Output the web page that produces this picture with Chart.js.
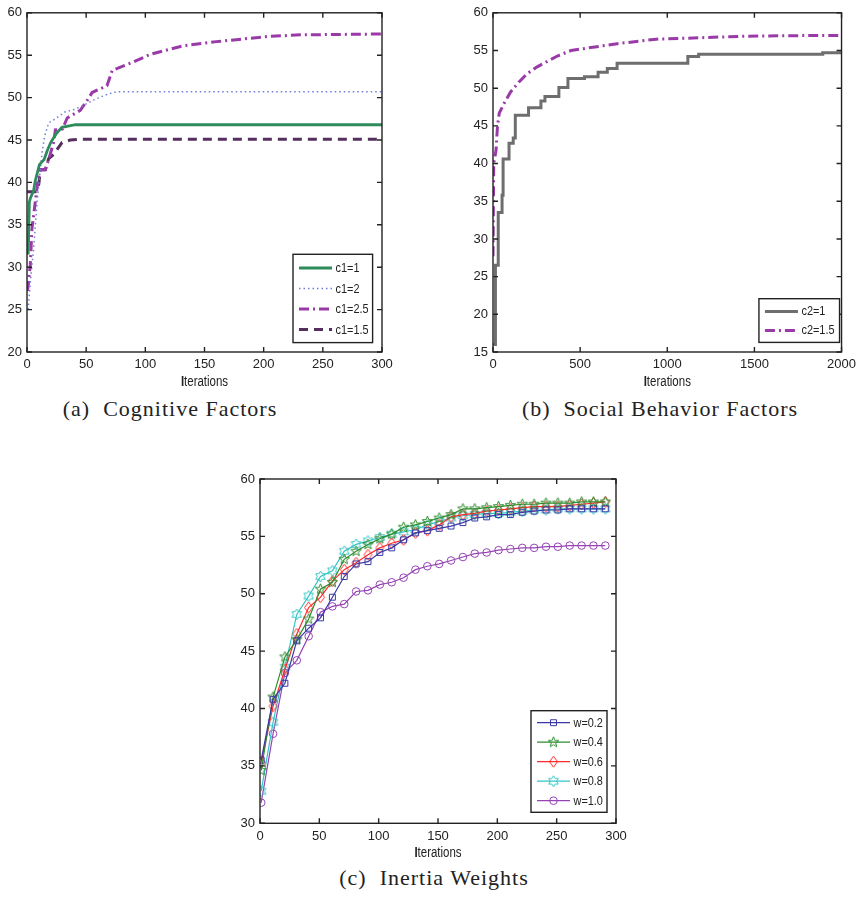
<!DOCTYPE html>
<html>
<head>
<meta charset="utf-8">
<script src="https://cdn.jsdelivr.net/npm/chart.js"></script>
<style>
  body { margin: 0; background: #fff; width: 861px; height: 897px; position: relative; overflow: hidden; }
  canvas { position: absolute; }
  .cap { position: absolute; font-family: "Liberation Serif", serif; font-size: 22px; letter-spacing: 1px; color: #222;
         white-space: pre; transform: translate(-50%, -50%); }
</style>
</head>
<body>
<canvas id="chartA" width="430" height="395" style="left:0;top:0"></canvas>
<canvas id="chartB" width="421" height="395" style="left:440px;top:0"></canvas>
<canvas id="chartC" width="420" height="400" style="left:220px;top:460px"></canvas>
<div class="cap" style="left:170px;top:409px">(a)  Cognitive Factors</div>
<div class="cap" style="left:660px;top:409px">(b)  Social Behavior Factors</div>
<div class="cap" style="left:434px;top:878px">(c)  Inertia Weights</div>

<script>
// (a) cognitive factors
const aC1_1x = [1, 2, 3, 5.5, 7, 10.5, 14.5, 17, 20, 25, 29.5, 41, 300];
const aC1_1y = [31.5, 37.7, 38.2, 39.0, 40.2, 42.1, 42.7, 43.7, 44.7, 45.8, 46.5, 46.8, 46.8];
const aC1_2x = [1, 3, 5.6, 8.5, 10.5, 12.7, 15, 18.3, 25, 32, 40, 48, 56, 68, 76, 300];
const aC1_2y = [25.0, 28.5, 32.2, 37.7, 40.5, 43.5, 45.5, 47.0, 47.6, 48.3, 48.6, 49.1, 49.7, 50.4, 50.7, 50.7];
const aC1_25x = [0.5, 2.8, 4.2, 7, 9, 11.3, 15.5, 18.3, 22.5, 24, 30, 34, 45, 52, 55, 67.6, 72, 90, 104, 132, 160, 203, 231, 300];
const aC1_25y = [27.2, 30.3, 34.6, 37.7, 40.0, 41.5, 41.5, 42.7, 44.7, 46.2, 46.3, 47.6, 48.5, 49.9, 50.6, 51.4, 53.2, 54.2, 55.1, 56.1, 56.6, 57.2, 57.4, 57.5];
const aC1_15x = [0, 7, 10, 11.3, 15.5, 18.3, 22.5, 29.6, 36.6, 45, 300];
const aC1_15y = [38.9, 38.9, 39.8, 41.5, 41.5, 42.8, 43.3, 44.7, 45.0, 45.1, 45.1];

// (b) social behavior factors (c2=1 is a step curve: x where the value jumps, new value)
const bC2_1x = [0, 14, 30, 52, 58, 92, 116, 128, 204, 275, 298, 378, 430, 525, 603, 656, 712, 1118, 1180, 1892, 2000];
const bC2_1y = [16.0, 26.5, 33.5, 35.8, 40.6, 42.7, 43.4, 46.4, 47.4, 48.3, 48.9, 50.1, 51.3, 51.5, 52.1, 52.6, 53.3, 54.2, 54.5, 54.7, 54.7];
const bC2_15x = [0, 4, 17, 26, 36, 64, 101, 148, 195, 251, 307, 373, 448, 506, 712, 937, 1199, 1442, 1893, 2000];
const bC2_15y = [27.7, 40.0, 41.7, 45.0, 46.7, 48.0, 49.5, 50.8, 51.9, 52.8, 53.5, 54.3, 55.0, 55.2, 55.9, 56.5, 56.7, 56.9, 57.0, 57.0];

// (c) inertia weights
const cIter = [1, 11, 21, 31, 41, 51, 61, 71, 81, 91, 101, 111, 121, 131, 141, 151, 161, 171, 181, 191,
               201, 211, 221, 231, 241, 251, 261, 271, 281, 291];
const cW02 = [35.5, 40.8, 42.2, 45.9, 47.0, 47.9, 49.7, 51.5, 52.6, 52.8, 53.6, 54.0, 54.7, 55.3, 55.5,
              55.7, 55.9, 56.2, 56.6, 56.7, 56.9, 56.9, 57.1, 57.2, 57.3, 57.3, 57.4, 57.4, 57.4, 57.4];
const cW04 = [34.6, 41.0, 44.5, 46.0, 47.8, 50.4, 51.0, 53.0, 53.7, 54.3, 54.8, 55.2, 55.8, 56.0, 56.3,
              56.6, 56.9, 57.4, 57.4, 57.5, 57.6, 57.7, 57.8, 57.8, 57.9, 57.9, 57.9, 58.0, 58.0, 58.0];
const cW06 = [35.3, 40.2, 43.4, 46.5, 48.8, 49.7, 51.1, 52.1, 52.7, 53.4, 54.0, 54.4, 54.7, 55.3, 55.5,
              56.0, 56.7, 56.9, 57.0, 57.2, 57.3, 57.4, 57.5, 57.6, 57.6, 57.6, 57.7, 57.8, 57.9, 58.0];
const cW08 = [32.8, 38.8, 43.6, 48.2, 49.8, 51.5, 52.0, 53.7, 54.3, 54.6, 54.9, 55.2, 55.4, 55.6, 56.0,
              56.3, 56.6, 56.8, 56.9, 57.0, 57.0, 57.1, 57.2, 57.3, 57.3, 57.4, 57.4, 57.4, 57.4, 57.4];
const cW10 = [31.8, 37.8, 43.1, 44.2, 46.3, 48.4, 48.9, 49.1, 50.2, 50.3, 50.8, 51.0, 51.4, 52.1, 52.4,
              52.6, 52.9, 53.2, 53.5, 53.6, 53.8, 53.9, 54.0, 54.0, 54.1, 54.1, 54.2, 54.2, 54.2, 54.2];

const sansFamily = '"Liberation Sans", Arial, sans-serif';
const tickFont = { family: sansFamily, size: 13 };
const ink = '#222';

const pts = (xs, ys) => xs.map((x, i) => ({ x: x, y: ys[i] }));

// matlab style box with inward ticks on every side, plus the x label with its bold "I"
const framePlugin = {
  id: 'frame',
  afterDatasetsDraw(chart) {
    const { ctx, chartArea: a, scales } = chart;
    ctx.save();
    ctx.strokeStyle = ink;
    ctx.lineWidth = 1.4;
    ctx.setLineDash([]);
    ctx.beginPath();
    scales.x.ticks.forEach(t => {
      const px = scales.x.getPixelForValue(t.value);
      ctx.moveTo(px, a.bottom); ctx.lineTo(px, a.bottom - 5);
      ctx.moveTo(px, a.top); ctx.lineTo(px, a.top + 5);
    });
    scales.y.ticks.forEach(t => {
      const py = scales.y.getPixelForValue(t.value);
      ctx.moveTo(a.left, py); ctx.lineTo(a.left + 5, py);
      ctx.moveTo(a.right, py); ctx.lineTo(a.right - 5, py);
    });
    ctx.stroke();
    ctx.strokeRect(a.left, a.top, a.right - a.left, a.bottom - a.top);

    // "Iterations" squeezed like the narrow matlab font
    const cx = (a.left + a.right) / 2, cy = a.bottom + 30;
    ctx.translate(cx, cy);
    ctx.scale(0.82, 1);
    ctx.fillStyle = ink;
    ctx.textBaseline = 'middle';
    ctx.font = 'bold 14px ' + sansFamily;
    const wI = ctx.measureText('I').width;
    ctx.font = '14px ' + sansFamily;
    const wRest = ctx.measureText('terations').width;
    const x0 = -(wI + wRest) / 2;
    ctx.font = 'bold 14px ' + sansFamily;
    ctx.fillText('I', x0, 0);
    ctx.font = '14px ' + sansFamily;
    ctx.fillText('terations', x0 + wI, 0);
    ctx.restore();
  }
};

// boxed legend inside the lower right corner
const boxLegend = {
  id: 'boxLegend',
  afterDraw(chart, args, opts) {
    const { ctx, chartArea: a } = chart;
    const x0 = a.right - opts.right - opts.w;
    const y0 = a.bottom - opts.bottom - opts.h;
    ctx.save();
    ctx.fillStyle = '#fff';
    ctx.fillRect(x0, y0, opts.w, opts.h);
    ctx.strokeStyle = ink;
    ctx.lineWidth = 1.4;
    ctx.strokeRect(x0, y0, opts.w, opts.h);
    chart.data.datasets.forEach((ds, i) => {
      const yy = y0 + opts.top + i * opts.rowH;
      ctx.strokeStyle = ds.borderColor;
      ctx.lineWidth = ds.borderWidth;
      ctx.setLineDash(ds.borderDash || []);
      ctx.beginPath();
      ctx.moveTo(x0 + 6, yy);
      ctx.lineTo(x0 + 39, yy);
      ctx.stroke();
      ctx.setLineDash([]);
      if (ds.pointRadius) {
        ctx.strokeStyle = ds.pointBorderColor || ds.borderColor;
        ctx.fillStyle = 'rgba(0,0,0,0)';
        ctx.lineWidth = 1;
        Chart.helpers.drawPoint(ctx, { pointStyle: ds.pointStyle, radius: ds.pointRadius, borderWidth: 1, rotation: 0 }, x0 + 22.5, yy);
      }
      ctx.save();
      ctx.translate(x0 + 42.5, yy + 0.5);
      ctx.scale(0.84, 1);
      ctx.fillStyle = ink;
      ctx.font = '13px ' + sansFamily;
      ctx.textBaseline = 'middle';
      ctx.fillText(ds.label, 0, 0);
      ctx.restore();
    });
    ctx.restore();
  }
};

function axes(xMin, xMax, xStep, yMin, yMax, yWidth, xHeight) {
  return {
    x: {
      type: 'linear', min: xMin, max: xMax,
      grid: { display: false, drawTicks: false }, border: { display: false },
      ticks: { stepSize: xStep, font: tickFont, color: ink, padding: 5, maxRotation: 0, callback: v => String(v) },
      afterFit: s => { s.height = xHeight; }
    },
    y: {
      type: 'linear', min: yMin, max: yMax,
      grid: { display: false, drawTicks: false }, border: { display: false },
      ticks: { stepSize: 5, font: tickFont, color: ink, padding: 5, callback: v => String(v) },
      afterFit: s => { s.width = yWidth; }
    }
  };
}

function makeChart(id, datasets, scales, padding, legendOpts) {
  return new Chart(document.getElementById(id), {
    type: 'line',
    data: { datasets: datasets },
    options: {
      responsive: false,
      animation: false,
      layout: { padding: padding },
      elements: { line: { tension: 0 } },
      scales: scales,
      plugins: { legend: { display: false }, tooltip: { enabled: false }, boxLegend: legendOpts }
    },
    plugins: [framePlugin, boxLegend]
  });
}

const plain = { pointRadius: 0, fill: false };

makeChart('chartA', [
  { label: 'c1=1', data: pts(aC1_1x, aC1_1y), borderColor: '#2e8b5c', borderWidth: 2.8, ...plain },
  { label: 'c1=2', data: pts(aC1_2x, aC1_2y), borderColor: '#6f7fd8', borderWidth: 1.5, borderDash: [1.5, 3], ...plain },
  { label: 'c1=2.5', data: pts(aC1_25x, aC1_25y), borderColor: '#9a3aa8', borderWidth: 3, borderDash: [10, 4, 2, 4], ...plain },
  { label: 'c1=1.5', data: pts(aC1_15x, aC1_15y), borderColor: '#55305f', borderWidth: 3, borderDash: [9, 6], ...plain }
], axes(0, 300, 50, 20, 60, 27, 43), { top: 8, right: 48, left: 0, bottom: 0 },
  { right: 9.4, bottom: 9.4, w: 79.6, h: 88.3, top: 13.7, rowH: 20.5 });

makeChart('chartB', [
  { label: 'c2=1', data: pts(bC2_1x, bC2_1y), borderColor: '#6e6e6e', borderWidth: 3, stepped: 'before', ...plain },
  { label: 'c2=1.5', data: pts(bC2_15x, bC2_15y), borderColor: '#9a3aa8', borderWidth: 3, borderDash: [10, 4, 2, 4], ...plain }
], axes(0, 2000, 500, 15, 60, 27, 43), { top: 8, right: 12, left: 26, bottom: 0 },
  { right: 2, bottom: 9.6, w: 80.6, h: 43.7, top: 12.7, rowH: 19 });

function markerCanvas(kind, color) {
  const c = document.createElement('canvas');
  c.width = 13; c.height = 13;
  const g = c.getContext('2d');
  g.strokeStyle = color;
  g.lineWidth = 1;
  g.beginPath();
  const cx = 6.5, cy = 6.5;
  if (kind === 'diamond') {
    g.moveTo(cx, cy - 5.5); g.lineTo(cx + 4, cy); g.lineTo(cx, cy + 5.5); g.lineTo(cx - 4, cy);
  } else {
    const n = kind === 'star5' ? 5 : 6;
    const R = 5.5, r = kind === 'star5' ? R * 0.42 : R * 0.58;
    for (let i = 0; i < 2 * n; i++) {
      const ang = -Math.PI / 2 + i * Math.PI / n;
      const rr = i % 2 ? r : R;
      const px = cx + rr * Math.cos(ang), py = cy + rr * Math.sin(ang);
      if (i) g.lineTo(px, py); else g.moveTo(px, py);
    }
  }
  g.closePath();
  g.stroke();
  return c;
}

const colW02 = '#3a3aa6', colW04 = '#2e8b2e', colW06 = '#ff2a2a', colW08 = '#35c4c4', colW10 = '#9544b4';
const marked = { fill: false, borderWidth: 1.2, pointBackgroundColor: 'rgba(0,0,0,0)', pointBorderWidth: 1 };

makeChart('chartC', [
  { label: 'w=0.2', data: pts(cIter, cW02), borderColor: colW02, pointBorderColor: colW02, pointStyle: 'rect', pointRadius: 4.2, ...marked },
  { label: 'w=0.4', data: pts(cIter, cW04), borderColor: colW04, pointStyle: markerCanvas('star5', colW04), pointRadius: 5, ...marked },
  { label: 'w=0.6', data: pts(cIter, cW06), borderColor: colW06, pointStyle: markerCanvas('diamond', colW06), pointRadius: 5, ...marked },
  { label: 'w=0.8', data: pts(cIter, cW08), borderColor: colW08, pointStyle: markerCanvas('star6', colW08), pointRadius: 5, ...marked },
  { label: 'w=1.0', data: pts(cIter, cW10), borderColor: colW10, pointBorderColor: colW10, pointStyle: 'circle', pointRadius: 3.8, ...marked }
], axes(0, 300, 50, 30, 60, 27, 36.7), { top: 19, right: 24, left: 13, bottom: 0 },
  { right: 9, bottom: 11, w: 76, h: 101.6, top: 12, rowH: 19.5 });
</script>
</body>
</html>
